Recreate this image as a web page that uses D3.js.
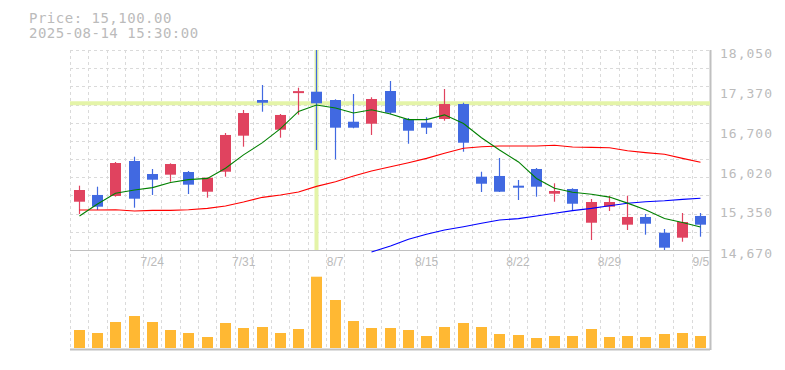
<!DOCTYPE html>
<html>
<head>
<meta charset="utf-8">
<script src="https://cdn.jsdelivr.net/npm/d3@7"></script>
<style>
  body { margin: 0; background: #fff; }
  .title { font-family: 'DejaVu Sans Mono', monospace; font-size: 14px; letter-spacing: 0.5px; fill: #bbb; }
  .yaxis text { font-family: 'DejaVu Sans Mono', monospace; font-size: 13px; letter-spacing: 1px; fill: #bbb; }
  .xaxis text { font-family: 'Liberation Sans', Arial, sans-serif; font-size: 12px; fill: #bbb; }
</style>
</head>
<body>
<svg id="chart" width="785" height="370"></svg>
<script>
// trading days
const dates = ['7/17','7/18','7/22','7/23','7/24','7/25','7/28','7/29','7/30','7/31',
  '8/1','8/4','8/5','8/6','8/7','8/8','8/12','8/13','8/14','8/15',
  '8/18','8/19','8/20','8/21','8/22','8/25','8/26','8/27','8/28','8/29',
  '9/1','9/2','9/3','9/4','9/5']
const dateLabels = ['7/24','7/31','8/7','8/15','8/22','8/29','9/5']

const open  = [15486,15600,15583,16174,15954,15943,15988,15655,15993,16602,17205,16703,17340,17345,17205,16838,16804,17357,16884,16821,16884,17137,15909,15921,15757,16039,15621,15701,15131,15402,15098,15228,14962,14878,15245]
const high  = [15757,15740,16157,16247,16039,16135,16005,15892,16647,17036,17458,16968,17413,18050,17217,17306,17251,17526,16901,16913,17391,17159,15993,16225,15853,16056,15797,15713,15532,15588,15588,15278,15025,15295,15295]
const low   = [15278,15346,15571,15385,15600,15824,15616,15554,15909,16416,17007,16568,16957,16360,16203,16727,16614,16963,16466,16630,16855,16331,15650,15650,15515,15571,15486,15346,14839,15329,15008,14929,14670,14810,14895]
const close = [15684,15402,16140,15537,15858,16123,15774,15892,16614,16985,17159,16952,17355,17149,16737,16737,17222,16990,16686,16737,17137,16483,15790,15655,15723,15740,15667,15452,15481,15481,15228,15114,14709,15143,15098]

const ma5  = [15245,15447,15630,15684,15724,15812,15860,15880,16052,16278,16485,16720,17013,17120,17070,16986,17040,16967,16874,16874,16954,16807,16567,16360,16158,15878,15715,15647,15613,15564,15462,15351,15203,15135,15058]
const ma25 = [15346,15346,15351,15329,15340,15340,15351,15374,15414,15481,15560,15600,15650,15745,15824,15921,16005,16078,16146,16219,16304,16389,16416,16428,16428,16428,16439,16411,16405,16399,16348,16315,16287,16219,16152]
const ma75 = [null,null,null,null,null,null,null,null,null,null,null,null,null,null,null,null,14636,14738,14851,14935,15008,15064,15121,15177,15200,15245,15290,15335,15374,15419,15459,15486,15503,15526,15544]

const volume = [360,300,520,640,520,360,300,220,500,400,420,300,380,1426,960,540,400,400,360,240,420,500,420,280,260,200,240,240,380,220,240,220,280,300,240]

const yTicks = [14670,15350,16020,16700,17370,18050]
const titleLines = ['Price: 15,100.00', '2025-08-14 15:30:00']
const crossIndex = 13
const crossPrice = 17149

const svg = d3.select('#chart')
const padLeft = 70, padRight = 710, padTop = 50, priceBottom = 250, volBottom = 348

const x = d3.scaleBand().domain(dates).range([padLeft, padRight])
const bw = x.bandwidth()
const cx = d => Math.floor(x(d) + bw / 2) + 0.5

const y = d3.scaleLinear().domain([14670, 18050]).range([priceBottom, padTop])
const yv = d3.scaleLinear().domain([0, 2000]).range([volBottom, volBottom - 100])

// grid
const grid = svg.append('g')
grid.selectAll('.vg').data(dates)
  .enter().append('line')
  .attr('x1', d => Math.round(x(d)) + 0.5)
  .attr('x2', d => Math.round(x(d)) + 0.5)
  .attr('y1', padTop).attr('y2', 350)
  .attr('stroke', '#dadada').attr('stroke-dasharray', '3,3')

const hGrid = d3.range(11).map(i => 14670 + (i + 1) * (18050 - 14670) / 11)
grid.selectAll('.hg').data(hGrid)
  .enter().append('line')
  .attr('x1', padLeft).attr('x2', padRight)
  .attr('y1', d => Math.round(y(d)) + 0.5)
  .attr('y2', d => Math.round(y(d)) + 0.5)
  .attr('stroke', '#dadada').attr('stroke-dasharray', '3,3')

// frame
svg.append('line').attr('x1', padLeft).attr('x2', padRight).attr('y1', 250.5).attr('y2', 250.5).attr('stroke', '#c0c0c0')
svg.append('line').attr('x1', padLeft).attr('x2', padRight).attr('y1', 349.5).attr('y2', 349.5).attr('stroke', '#c0c0c0').attr('stroke-width', 2)
svg.append('line').attr('x1', padRight + 0.5).attr('x2', padRight + 0.5).attr('y1', padTop).attr('y2', 350).attr('stroke', '#c0c0c0').attr('stroke-width', 2)

// crosshair
svg.append('line')
  .attr('x1', cx(dates[crossIndex])).attr('x2', cx(dates[crossIndex]))
  .attr('y1', padTop).attr('y2', priceBottom)
  .attr('stroke', '#e4f4a8').attr('stroke-width', 4)
svg.append('line')
  .attr('x1', padLeft).attr('x2', padRight)
  .attr('y1', y(crossPrice)).attr('y2', y(crossPrice))
  .attr('stroke', '#e4f4a8').attr('stroke-width', 4)

// volume
svg.append('g').selectAll('rect').data(dates)
  .enter().append('rect')
  .attr('x', d => cx(d) - 5.5)
  .attr('width', 11)
  .attr('y', (d, i) => yv(volume[i]))
  .attr('height', (d, i) => volBottom - yv(volume[i]))
  .attr('fill', '#ffb833')

// candles
const upColor = '#e0435f', downColor = '#4169e1'
const candles = svg.append('g').selectAll('g').data(dates)
  .enter().append('g')
  .attr('fill', (d, i) => close[i] >= open[i] ? upColor : downColor)
  .attr('stroke', (d, i) => close[i] >= open[i] ? upColor : downColor)

candles.append('line')
  .attr('x1', d => cx(d)).attr('x2', d => cx(d))
  .attr('y1', (d, i) => y(high[i]))
  .attr('y2', (d, i) => y(low[i]))
  .attr('stroke-width', 1.2)

candles.append('rect')
  .attr('stroke', 'none')
  .attr('x', d => cx(d) - 5.5)
  .attr('width', 11)
  .attr('y', (d, i) => y(Math.max(open[i], close[i])))
  .attr('height', (d, i) => Math.max(2, Math.abs(y(open[i]) - y(close[i]))))

// moving averages
const line = d3.line()
  .defined(d => d.v != null)
  .x(d => cx(d.date))
  .y(d => y(d.v))

const series = [[ma25, '#ff0000'], [ma75, '#0000ff'], [ma5, '#008000']]
series.forEach(([vals, color]) => {
  svg.append('path')
    .datum(dates.map((date, i) => ({ date, v: vals[i] })))
    .attr('d', line)
    .attr('fill', 'none')
    .attr('stroke', color)
    .attr('stroke-width', 1.1)
})

// axes
const yAxis = svg.append('g')
  .attr('class', 'yaxis')
  .attr('transform', `translate(${padRight},0)`)
  .call(d3.axisRight(y).tickValues(yTicks).tickFormat(d3.format(',')).tickSize(0).tickPadding(10))
yAxis.select('.domain').remove()
yAxis.selectAll('text').attr('dy', '0.55em')

const xAxis = svg.append('g')
  .attr('class', 'xaxis')
  .attr('transform', `translate(0,${priceBottom})`)
  .call(d3.axisBottom(x).tickValues(dateLabels).tickSize(0).tickPadding(7))
xAxis.select('.domain').remove()

// title
svg.selectAll('.title').data(titleLines)
  .enter().append('text')
  .attr('class', 'title')
  .attr('x', 29)
  .attr('y', (d, i) => 23 + i * 15)
  .text(d => d)
</script>
</body>
</html>
